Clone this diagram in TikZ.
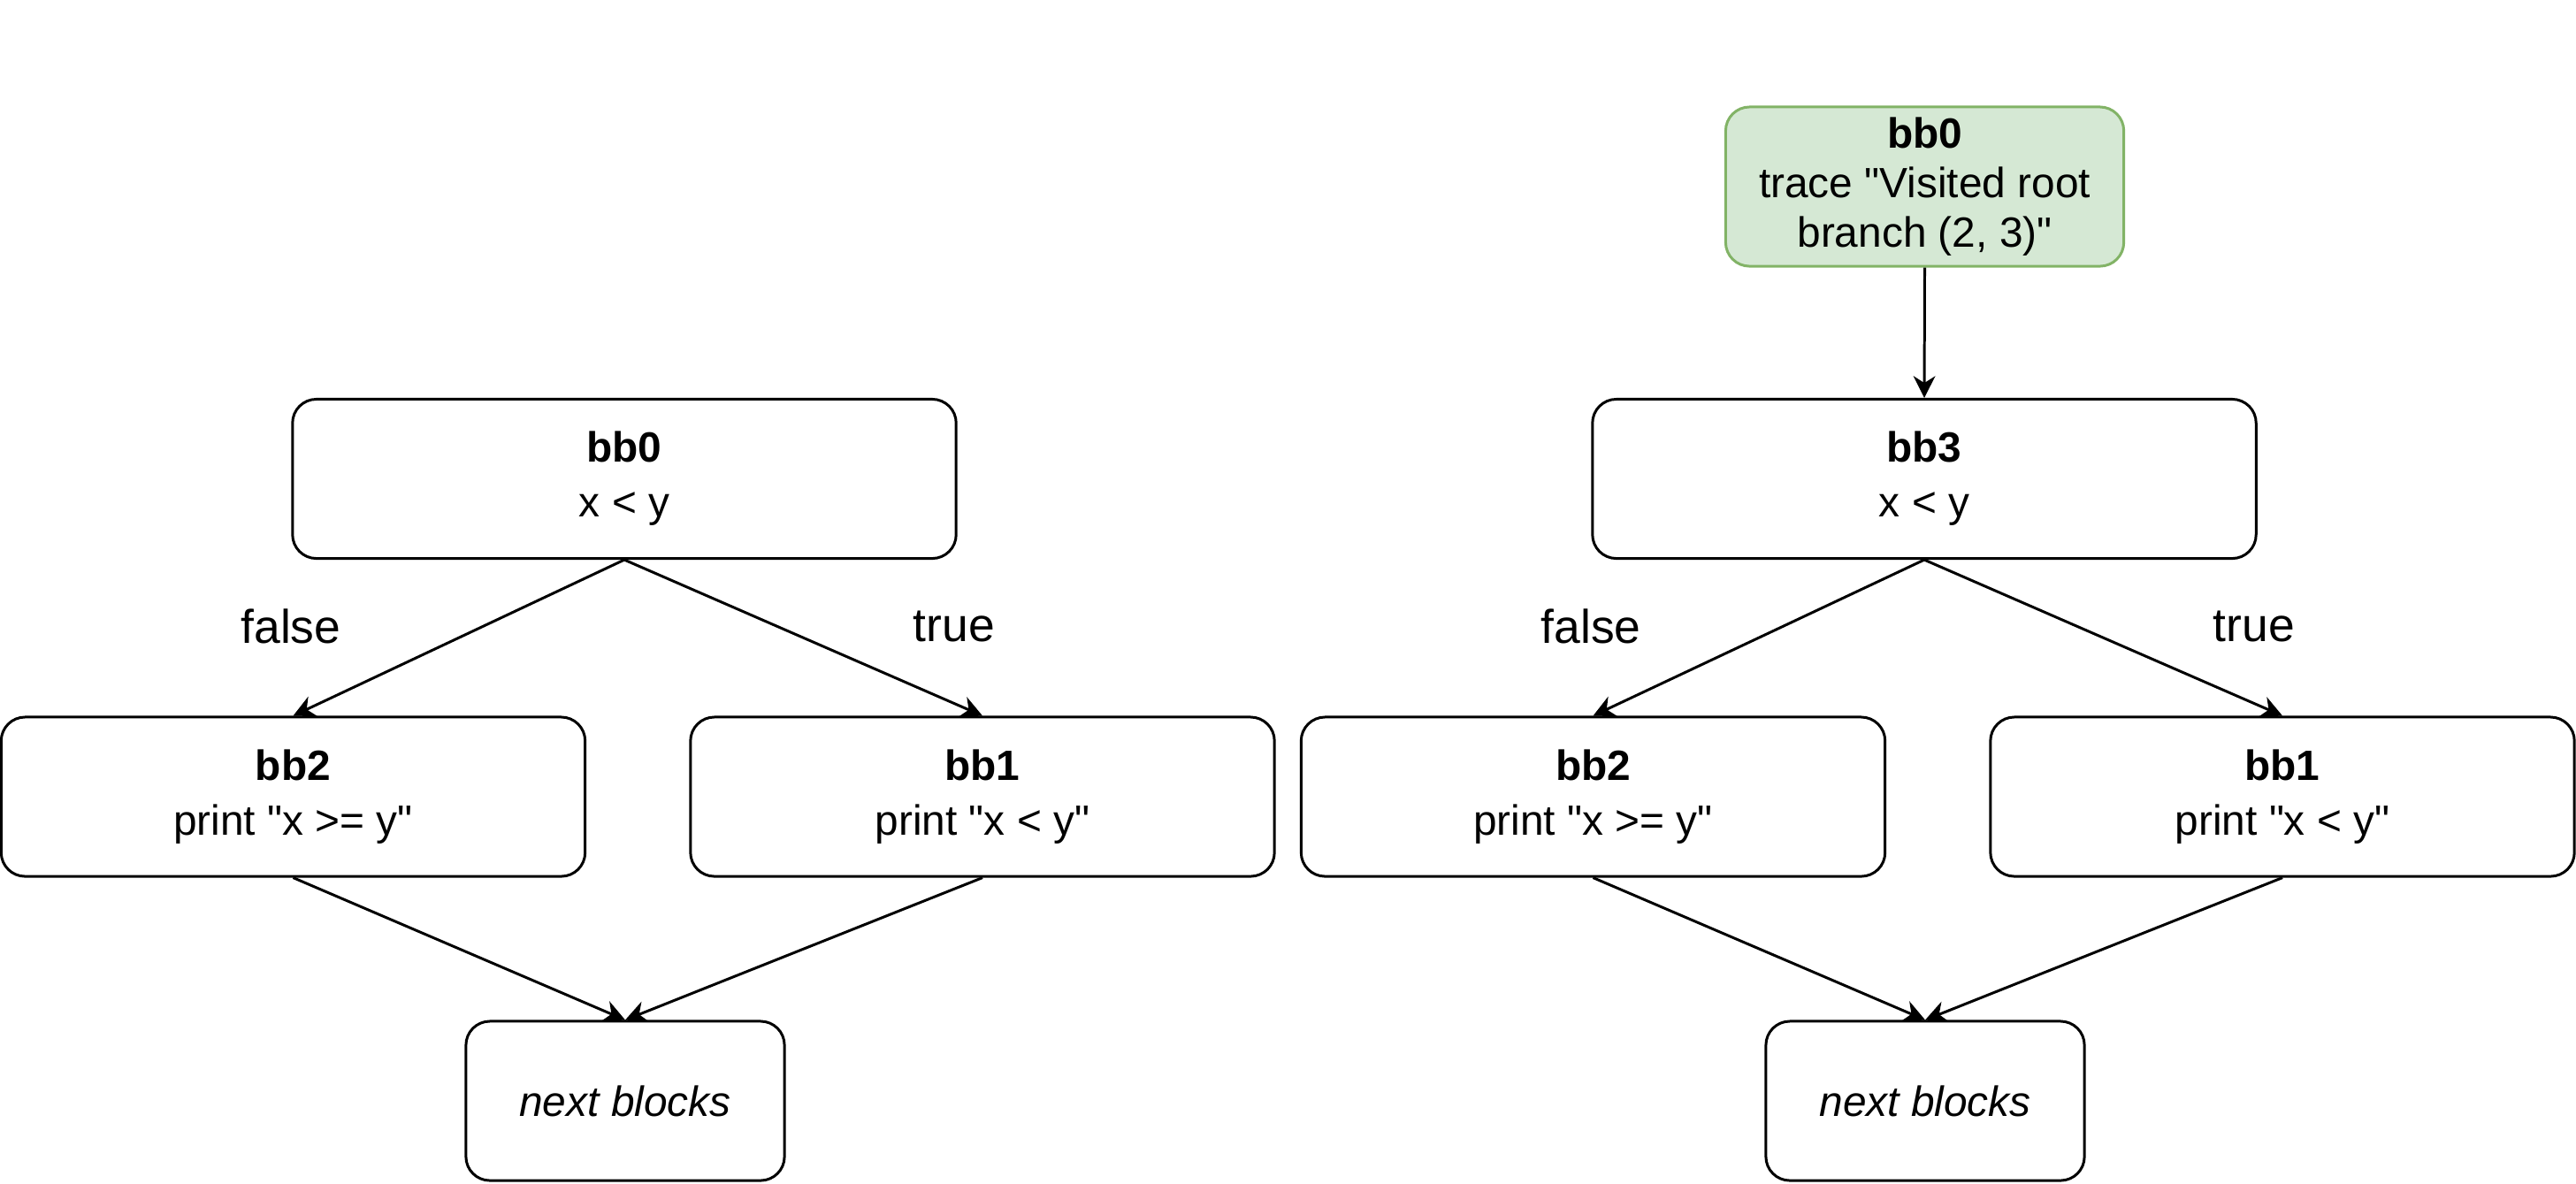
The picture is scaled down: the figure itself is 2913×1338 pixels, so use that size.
\documentclass[tikz,border=0pt]{standalone}
\usepackage{fontspec}
\setmainfont{Liberation Sans}[Ligatures=TeXOff]
\usetikzlibrary{arrows.meta,calc}
\definecolor{gfill}{HTML}{D5E8D4}
\definecolor{gdraw}{HTML}{82B366}
\tikzset{
  blk/.style={draw=black, line width=0.85pt, rounded corners=0.27cm, fill=white,
    minimum height=1.8cm, inner sep=0pt, align=center,
    font=\fontsize{13.6}{17.6}\selectfont},
  topbox/.style={blk, minimum width=7.5cm},
  midbox/.style={blk, minimum width=6.6cm},
  nextbox/.style={blk, minimum width=3.6cm, font=\fontsize{13.6}{17.6}\selectfont\itshape},
  greenbox/.style={blk, minimum width=4.5cm, fill=gfill, draw=gdraw,
    font=\fontsize{13.6}{15.9}\selectfont},
  lbl/.style={inner sep=0pt, font=\fontsize{15.2}{18}\selectfont},
  conn/.style={line width=0.85pt, -{Stealth[length=7pt,width=7pt,inset=2.2pt]}},
}
\begin{document}
\begin{tikzpicture}[x=0.01cm,y=-0.01cm]
\useasboundingbox (0,0) rectangle (2913,1338);
% left
\node[topbox] (la) at (706,541.5) {\textbf{bb0}\\x < y};
\node[midbox] (lb2) at (331.5,901) {\textbf{bb2}\\print "x >= y"};
\node[midbox] (lb1) at (1111,901) {\textbf{bb1}\\print "x < y"};
\node[nextbox] (ln) at (707,1245) {next blocks};
\node[lbl] (lf) at (329,708) {false};
\node[lbl] (lt) at (1079,708) {true};
\draw[conn] (la.south) -- (lb2.north);
\draw[conn] (la.south) -- (lb1.north);
\draw[conn] (lb2.south) -- (ln.north);
\draw[conn] (lb1.south) -- (ln.north);
% right
\node[greenbox] (g) at (2176.5,211) {\textbf{bb0}\\trace "Visited root\\branch (2, 3)"};
\node[topbox] (ra) at (2176,541.5) {\textbf{bb3}\\x < y};
\node[midbox] (rb2) at (1801.5,901) {\textbf{bb2}\\print "x >= y"};
\node[midbox] (rb1) at (2581,901) {\textbf{bb1}\\print "x < y"};
\node[nextbox] (rn) at (2177,1245) {next blocks};
\node[lbl] (rf) at (1799,708) {false};
\node[lbl] (rt) at (2549,708) {true};
\draw[conn] (g.south) -- (ra.north);
\draw[conn] (ra.south) -- (rb2.north);
\draw[conn] (ra.south) -- (rb1.north);
\draw[conn] (rb2.south) -- (rn.north);
\draw[conn] (rb1.south) -- (rn.north);
\end{tikzpicture}
\end{document}
